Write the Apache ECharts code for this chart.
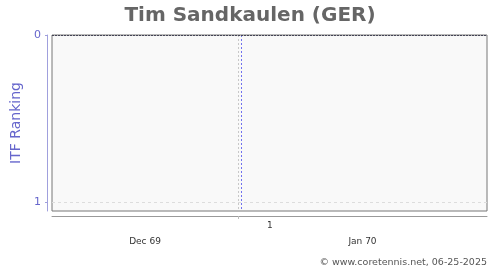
<!DOCTYPE html>
<html><head><meta charset="utf-8">
<script src="https://cdn.jsdelivr.net/npm/echarts@6/dist/echarts.min.js"></script>
<style>html,body{margin:0;padding:0;background:#fff}#c{width:500px;height:270px}</style>
</head><body><div id="c"></div>
<script>
// Data (x in days relative to 1 Jan 1970)
const playerTitle = 'Tim Sandkaulen (GER)';
const monthLabels = ['Dec 69', 'Jan 70'];
const monthCenters = [-15.5, 20.75];
const monthStarts = [0];
const weekLabels = ['1'];
const weekCenters = [5.3];
const rankTicks = [0, 1];
const markerDay = [0.5];
const rankings = [];
const xMin = -31, xMax = 41.5;

const chart = echarts.init(document.getElementById('c'), null, {renderer: 'canvas'});
const font = 'DejaVu Sans';
chart.setOption({
  animation: false,
  backgroundColor: '#fff',
  title: {
    text: playerTitle, left: 'center', top: 1,
    textStyle: {fontFamily: font, fontSize: 20, fontWeight: 'bold', color: '#666'}
  },
  graphic: [{
    type: 'text', right: 13, bottom: 2,
    style: {text: '\u00a9 www.coretennis.net, 06-25-2025', fontFamily: font, fontSize: 9.5, fill: '#555'}
  }],
  grid: {left: 52, right: 13, top: 35, bottom: 59, show: true, backgroundColor: '#f9f9f9', borderColor: '#777', borderWidth: 1},
  xAxis: [{
    type: 'value', min: xMin, max: xMax, position: 'bottom', offset: 5,
    axisLine: {show: true, onZero: false, lineStyle: {color: '#999', width: 1}},
    axisTick: {show: true, customValues: monthStarts, length: 3, lineStyle: {color: '#bbb'}},
    axisLabel: {show: true, customValues: weekCenters, formatter: v => weekLabels[0], fontFamily: font, fontSize: 9, color: '#333', margin: 5},
    splitLine: {show: false}
  }, {
    type: 'value', min: xMin, max: xMax, position: 'bottom', offset: 21,
    axisLine: {show: false, onZero: false}, axisTick: {show: false},
    axisLabel: {show: true, customValues: monthCenters,
      formatter: v => monthLabels[monthCenters.indexOf(v)],
      fontFamily: font, fontSize: 9, color: '#333', margin: 5},
    splitLine: {show: false}
  }],
  yAxis: {
    type: 'value', inverse: true, min: 0, max: 1.054, interval: 1, offset: 5,
    name: 'ITF Ranking', nameLocation: 'middle', nameGap: 22,
    nameTextStyle: {fontFamily: font, fontSize: 14, color: '#6666cc'},
    axisLine: {show: true, onZero: false, lineStyle: {color: '#a0a0dd', width: 1}},
    axisTick: {show: true, length: 2, lineStyle: {color: '#a0a0dd'}, customValues: rankTicks},
    axisLabel: {customValues: rankTicks, fontFamily: font, fontSize: 11, color: '#6666cc', margin: 6},
    splitLine: {show: false}
  },
  series: [{
    type: 'line', xAxisIndex: 0, data: rankings, symbol: 'none',
    markLine: {
      silent: true, symbol: 'none', label: {show: false}, animation: false,
      data: [
        {xAxis: monthStarts[0], lineStyle: {color: '#c8c8c8', type: [2, 2], width: 1}},
        {xAxis: markerDay[0], lineStyle: {color: '#7070ee', type: [2, 2], width: 1}},
        {yAxis: rankTicks[1], lineStyle: {color: '#ddd', type: [3, 3], width: 1}},
        {yAxis: rankTicks[0], lineStyle: {color: '#445', type: [2, 1], width: 1}}
      ]
    }
  }]
});
</script></body></html>
